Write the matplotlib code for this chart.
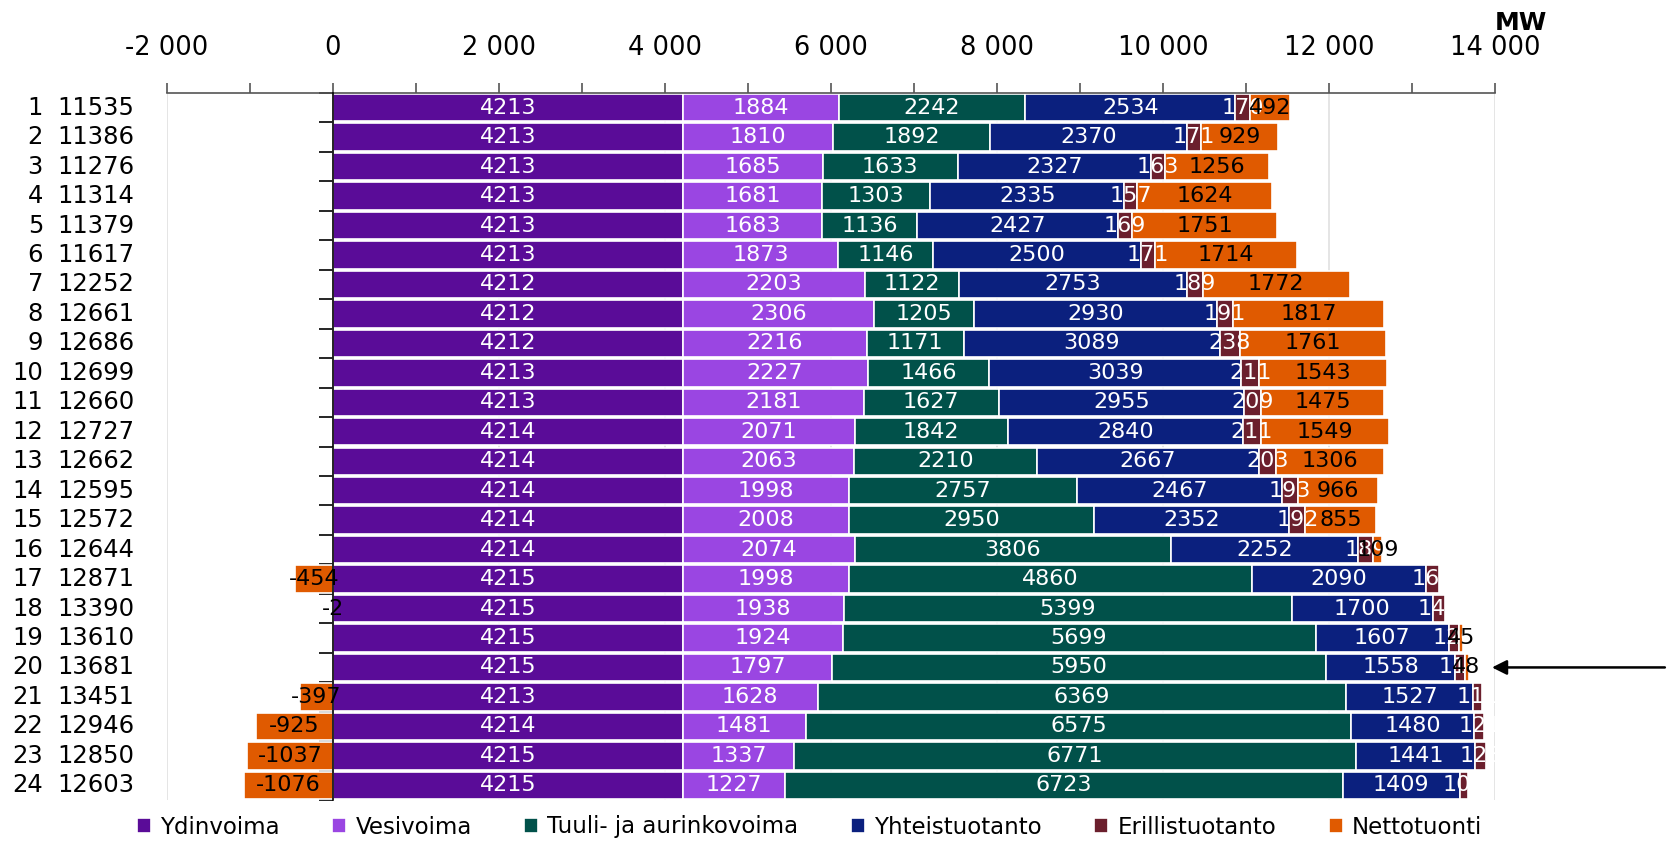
import numpy as np
import matplotlib.pyplot as plt
from matplotlib.ticker import FuncFormatter, MultipleLocator
from matplotlib.transforms import blended_transform_factory

hours = list(range(1, 25))
totals = [11535, 11386, 11276, 11314, 11379, 11617, 12252, 12661, 12686, 12699, 12660, 12727,
          12662, 12595, 12572, 12644, 12871, 13390, 13610, 13681, 13451, 12946, 12850, 12603]

ydinvoima = [4213, 4213, 4213, 4213, 4213, 4213, 4212, 4212, 4212, 4213, 4213, 4214,
             4214, 4214, 4214, 4214, 4215, 4215, 4215, 4215, 4213, 4214, 4215, 4215]
vesivoima = [1884, 1810, 1685, 1681, 1683, 1873, 2203, 2306, 2216, 2227, 2181, 2071,
             2063, 1998, 2008, 2074, 1998, 1938, 1924, 1797, 1628, 1481, 1337, 1227]
tuuli = [2242, 1892, 1633, 1303, 1136, 1146, 1122, 1205, 1171, 1466, 1627, 1842,
         2210, 2757, 2950, 3806, 4860, 5399, 5699, 5950, 6369, 6575, 6771, 6723]
yhteis = [2534, 2370, 2327, 2335, 2427, 2500, 2753, 2930, 3089, 3039, 2955, 2840,
          2667, 2467, 2352, 2252, 2090, 1700, 1607, 1558, 1527, 1480, 1441, 1409]
erillis = [170, 171, 163, 157, 169, 171, 189, 191, 238, 211, 209, 211,
           203, 193, 192, 189, 162, 140, 120, 113, 111, 121, 123, 105]
netto = [492, 929, 1256, 1624, 1751, 1714, 1772, 1817, 1761, 1543, 1475, 1549,
         1306, 966, 855, 109, -454, -2, 45, 48, -397, -925, -1037, -1076]

series = [
    ("Ydinvoima", ydinvoima, "#5a0c98", "white"),
    ("Vesivoima", vesivoima, "#9a46e2", "white"),
    ("Tuuli- ja aurinkovoima", tuuli, "#01514a", "white"),
    ("Yhteistuotanto", yhteis, "#0b207e", "white"),
    ("Erillistuotanto", erillis, "#6b1f2d", "white"),
    ("Nettotuonti", netto, "#e05a00", "black"),
]

fig = plt.figure(figsize=(16.71, 8.41), dpi=100)
ax = fig.add_axes([167 / 1671, 1 - 800 / 841, 1328 / 1671, (800 - 93) / 841])

y = np.arange(len(hours))
pos = np.zeros(len(hours))
neg = np.zeros(len(hours))
handles = []
for name, vals, col, tcol in series:
    v = np.array(vals, dtype=float)
    left = np.where(v >= 0, pos, neg)
    b = ax.barh(y, v, left=left, height=0.93, color=col, edgecolor="white", linewidth=1.2, label=name, zorder=2)
    handles.append(b)
    for i in range(len(v)):
        ax.text(left[i] + v[i] / 2, y[i], f"{int(v[i])}", ha="center", va="center",
                color=tcol, fontsize=16, zorder=3)
    pos = np.where(v >= 0, pos + v, pos)
    neg = np.where(v < 0, neg + v, neg)

ax.set_xlim(-2000, 14000)
ax.set_ylim(23.5, -0.5)
ax.xaxis.set_major_locator(MultipleLocator(2000))
ax.xaxis.set_minor_locator(MultipleLocator(1000))
ax.xaxis.set_major_formatter(FuncFormatter(lambda v, p: f"{v:,.0f}".replace(",", " ")))
ax.xaxis.tick_top()
ax.tick_params(axis="x", which="both", direction="out", length=7, width=1.2, color="#555555",
               labelsize=18.5, pad=16)
ax.grid(axis="x", which="major", color="#e0e0e0", linewidth=1.2, zorder=0)
ax.set_axisbelow(True)

ax.spines["right"].set_visible(False)
ax.spines["bottom"].set_visible(False)
ax.spines["top"].set_color("#555555")
ax.spines["top"].set_linewidth(1.2)
ax.spines["left"].set_position(("data", 0))
ax.spines["left"].set_color("black")
ax.spines["left"].set_linewidth(1.2)
ax.spines["left"].set_zorder(4)
ax.set_yticks([])
ax.set_yticks(np.arange(-0.5, 24, 1), minor=True)
ax.tick_params(axis="y", which="minor", direction="out", length=10, width=1.2, labelleft=False)

tr = blended_transform_factory(fig.transFigure, ax.transData)
for i, (h, t) in enumerate(zip(hours, totals)):
    ax.text(43 / 1671, y[i], str(h), transform=tr, ha="right", va="center", fontsize=17.5)
    ax.text(57 / 1671, y[i], str(t), transform=tr, ha="left", va="center", fontsize=17.5)

fig.text(1495 / 1671, 1 - 23 / 841, "MW", ha="left", va="center", fontsize=18, fontweight="bold")

ax.annotate("", xy=(13930, 19), xytext=(1.13, 19), textcoords=("axes fraction", "data"),
            arrowprops=dict(arrowstyle="-|>", color="black", lw=1.8, mutation_scale=22),
            annotation_clip=False)

leg = fig.legend(handles=handles, loc="center left", bbox_to_anchor=(128 / 1671, 1 - 827 / 841),
                 ncol=6, frameon=False, fontsize=16.5, handlelength=0.6, handleheight=0.6,
                 handletextpad=0.4, columnspacing=2.3, borderaxespad=0)

fig.savefig("out.png", dpi=100)
